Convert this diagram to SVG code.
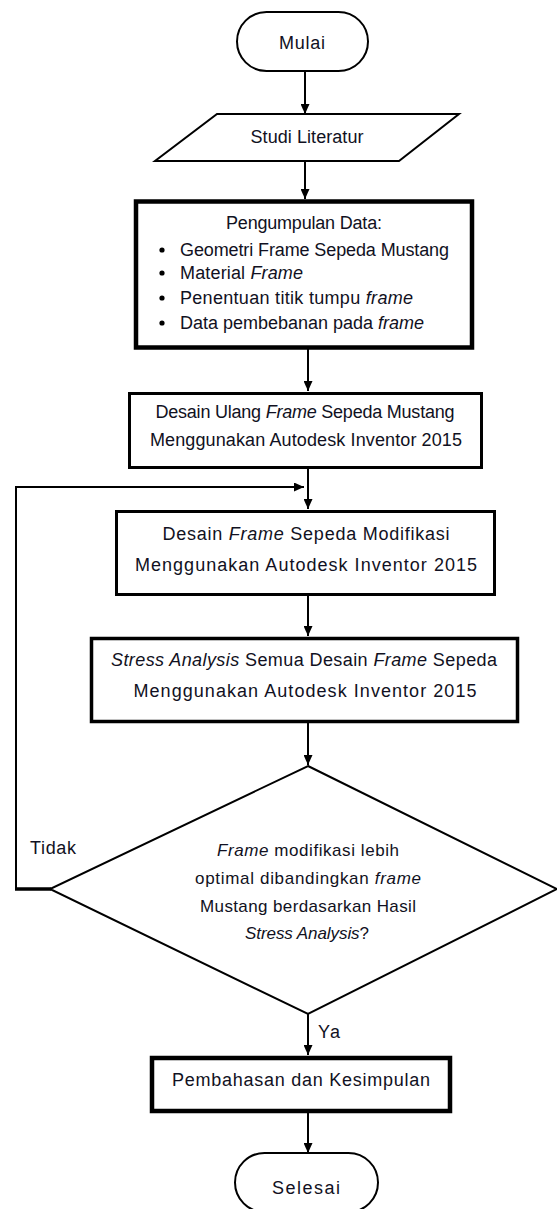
<svg xmlns="http://www.w3.org/2000/svg" width="557" height="1209" viewBox="0 0 557 1209">
<style>
text{font-family:"Liberation Sans",Arial,sans-serif;font-size:18px;fill:#111122}
.c{text-anchor:middle}
.i{font-style:italic}
.d{font-size:17px}
.n{fill:#fff;stroke:#000}
.ln{fill:none;stroke:#000;stroke-width:2}
</style>
<defs>
<marker id="ah" viewBox="0 0 10 9" refX="10" refY="4.5" markerWidth="10" markerHeight="9" markerUnits="userSpaceOnUse" orient="auto">
<path d="M0,0 L10,4.5 L0,9 z" fill="#000"/>
</marker>
</defs>
<rect width="557" height="1209" fill="#fff"/>
<g id="connectors">
<line class="ln" x1="305" y1="71" x2="305" y2="114" marker-end="url(#ah)"/>
<line class="ln" x1="305" y1="161" x2="305" y2="199" marker-end="url(#ah)"/>
<line class="ln" x1="308" y1="349" x2="308" y2="391" marker-end="url(#ah)"/>
<line class="ln" x1="308" y1="469" x2="308" y2="509" marker-end="url(#ah)"/>
<line class="ln" x1="308" y1="596" x2="308" y2="636" marker-end="url(#ah)"/>
<line class="ln" x1="308" y1="723" x2="308" y2="765" marker-end="url(#ah)"/>
<line class="ln" x1="308" y1="1014" x2="308" y2="1055" marker-end="url(#ah)"/>
<line class="ln" x1="308" y1="1113" x2="308" y2="1153" marker-end="url(#ah)"/>
<path class="ln" d="M16,889 V487 H304" marker-end="url(#ah)"/>
<line x1="15" y1="889" x2="51" y2="889" stroke="#000" stroke-width="3.5"/>
<text x="30" y="854" textLength="46">Tidak</text>
<text x="318" y="1038" textLength="22">Ya</text>
</g>
<g id="mulai">
<rect class="n" x="237" y="12" width="131" height="59" rx="29.5" stroke-width="2"/>
<text class="c" x="302" y="49" textLength="46">Mulai</text>
</g>
<g id="studi">
<polygon class="n" points="217,114 459,114 399,161 155,161" stroke-width="2"/>
<text class="c" x="307" y="143" textLength="113">Studi Literatur</text>
</g>
<g id="data">
<rect class="n" x="136" y="201.5" width="336" height="146" stroke-width="4.5"/>
<text class="c" x="304" y="229" textLength="156">Pengumpulan Data:</text>
<circle cx="162" cy="250" r="2.6" fill="#000"/>
<circle cx="162" cy="273" r="2.6" fill="#000"/>
<circle cx="162" cy="298" r="2.6" fill="#000"/>
<circle cx="162" cy="323" r="2.6" fill="#000"/>
<text x="180" y="256" textLength="269">Geometri Frame Sepeda Mustang</text>
<text x="180" y="279" textLength="123">Material <tspan class="i">Frame</tspan></text>
<text x="180" y="304" textLength="233">Penentuan titik tumpu <tspan class="i">frame</tspan></text>
<text x="180" y="329" textLength="244">Data pembebanan pada <tspan class="i">frame</tspan></text>
</g>
<g id="desain-ulang">
<rect class="n" x="129.5" y="393.5" width="352" height="74" stroke-width="3"/>
<text class="c" x="305" y="418" textLength="299">Desain Ulang <tspan class="i">Frame</tspan> Sepeda Mustang</text>
<text class="c" x="306" y="446" textLength="312">Menggunakan Autodesk Inventor 2015</text>
</g>
<g id="desain-modifikasi">
<rect class="n" x="116.5" y="511.5" width="378" height="83" stroke-width="3"/>
<text class="c" x="306" y="540" textLength="287">Desain <tspan class="i">Frame</tspan> Sepeda Modifikasi</text>
<text class="c" x="306" y="571" textLength="342">Menggunakan Autodesk Inventor 2015</text>
</g>
<g id="stress-analysis">
<rect class="n" x="91.5" y="638.5" width="426" height="83" stroke-width="3.5"/>
<text class="c" x="304" y="666" textLength="386"><tspan class="i">Stress Analysis</tspan> Semua Desain <tspan class="i">Frame</tspan> Sepeda</text>
<text class="c" x="305" y="697" textLength="343">Menggunakan Autodesk Inventor 2015</text>
</g>
<g id="keputusan">
<polygon class="n" points="308,766 557,889 308,1014 50,889" stroke-width="2"/>
<text class="c d" x="308" y="856" textLength="182"><tspan class="i">Frame</tspan> modifikasi lebih</text>
<text class="c d" x="308" y="884" textLength="226">optimal dibandingkan <tspan class="i">frame</tspan></text>
<text class="c d" x="308" y="912" textLength="216">Mustang berdasarkan Hasil</text>
<text class="c d" x="307" y="939" textLength="124"><tspan class="i">Stress Analysis</tspan>?</text>
</g>
<g id="pembahasan">
<rect class="n" x="152" y="1058" width="298" height="53" stroke-width="4.5"/>
<text class="c" x="301" y="1086" textLength="258">Pembahasan dan Kesimpulan</text>
</g>
<g id="selesai">
<rect class="n" x="235" y="1153" width="143" height="59" rx="29.5" stroke-width="2"/>
<text class="c" x="306" y="1194" textLength="68">Selesai</text>
</g>
</svg>
